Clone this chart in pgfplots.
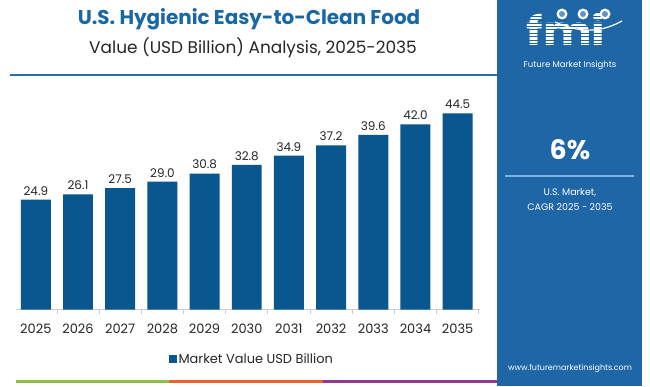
\documentclass[border=0pt]{standalone}
\usepackage{fontspec}
\setmainfont{Poppins}
\usepackage{pgfplots}
\pgfplotsset{compat=1.18}
\definecolor{barblue}{HTML}{0A568E}
\definecolor{panelblue}{HTML}{1E66A6}
\definecolor{titleblue}{HTML}{1A68A3}
\definecolor{lineblue}{HTML}{2A6EA8}
\definecolor{gridgray}{HTML}{EFEFEF}
\definecolor{axisgray}{HTML}{CCCCCC}
\definecolor{fmigreen}{HTML}{8DC04A}
\definecolor{fmiorange}{HTML}{E8622A}
\definecolor{fmipurple}{HTML}{8E3A92}
\definecolor{cagrline}{HTML}{7AB6E6}
\begin{document}
\begin{tikzpicture}[x=1bp,y=1bp]
\path[fill=white] (0,0) rectangle (650,386);
% right panel
\fill[panelblue] (497,0) rectangle (642,386);
% titles
\node[font=\fontsize{20}{22}\selectfont\bfseries, text=titleblue] at (249,367) {U.S. Hygienic Easy-to-Clean Food};
\node[font=\fontsize{17}{19}\selectfont, text=black!85] at (253,338) {Value (USD Billion) Analysis, 2025-2035};
\draw[lineblue, line width=2bp] (10,311) -- (497,311);
% axis
\begin{axis}[
  at={(16bp,76.5bp)}, anchor=south west,
  scale only axis, width=464bp, height=220.5bp,
  xmin=-0.47, xmax=10.53, ymin=0, ymax=50,
  axis y line=none,
  axis x line*=bottom,
  x axis line style={axisgray, line width=0.8bp, -},
  xtick={0,...,10},
  xticklabels={2025,2026,2027,2028,2029,2030,2031,2032,2033,2034,2035},
  minor xtick={-0.5,0.5,...,10.5},
  xtick align=outside,
  major tick length=0pt,
  minor tick length=4bp,
  minor tick style={axisgray, line width=0.8bp},
  xticklabel style={font=\fontsize{13}{15}\selectfont, text=black!85, yshift=-11bp},
  ytick={0,5,...,50},
  ymajorgrids,
  grid style={gridgray, line width=0.8bp},
  /pgf/number format/assume math mode=true,
  /pgf/number format/fixed,
  /pgf/number format/fixed zerofill,
  /pgf/number format/precision=1,
  nodes near coords,
  nodes near coords style={font=\fontsize{12}{14}\selectfont, text=black!85, yshift=1bp},
  ybar, bar width=0.71, bar shift=0pt,
  legend style={at={(0.508,-0.225)}, anchor=center, draw=none, fill=none, font=\fontsize{13}{15}\selectfont, text=black!85},
  legend image code/.code={\fill[barblue] (0bp,-4bp) rectangle (8bp,4bp);},
  clip=false,
]
\addplot[fill=barblue, draw=none] coordinates {
(0,24.9) (1,26.1) (2,27.5) (3,29.0) (4,30.8) (5,32.8) (6,34.9) (7,37.2) (8,39.6) (9,42.0) (10,44.5)};
\addlegendentry{Market Value USD Billion}
\end{axis}
% bottom colour strip
\fill[fmigreen] (16,3.5) rectangle (169,6.5);
\fill[fmiorange] (169,3.5) rectangle (323,6.5);
\fill[fmipurple] (323,3.5) rectangle (497,6.5);
% logo
\node[white, font=\fontsize{40}{40}\selectfont\bfseries, anchor=base, inner sep=0pt, xscale=1.15] at (566,341) {fmi};
\foreach \yy in {342.5,345.9,...,373} {\draw[panelblue, line width=1bp] (512,\yy) -- (628,\yy);}
\foreach \xx in {562,583,605} {\fill[white] (\xx,372) circle (5.5bp); \fill[panelblue!70] (\xx,372) circle (3bp);}
\draw[white, line width=1.2bp] (555,364) .. controls (580,353) and (600,353) .. (622,365);
\node[white, font=\fontsize{8.5}{10}\selectfont, inner sep=1pt] at (570,321) {Future Market Insights};
% CAGR
\node[white, font=\fontsize{27}{30}\selectfont\bfseries] at (570,236) {6\%};
\draw[cagrline, line width=1.5bp] (505,210) -- (634,210);
\node[white, font=\fontsize{9.5}{11}\selectfont] at (570,193) {U.S. Market,};
\node[white, font=\fontsize{9.5}{11}\selectfont] at (570,179) {CAGR 2025 - 2035};
\node[white, font=\fontsize{8}{10}\selectfont] at (570,17) {www.futuremarketinsights.com};
\end{tikzpicture}
\end{document}
